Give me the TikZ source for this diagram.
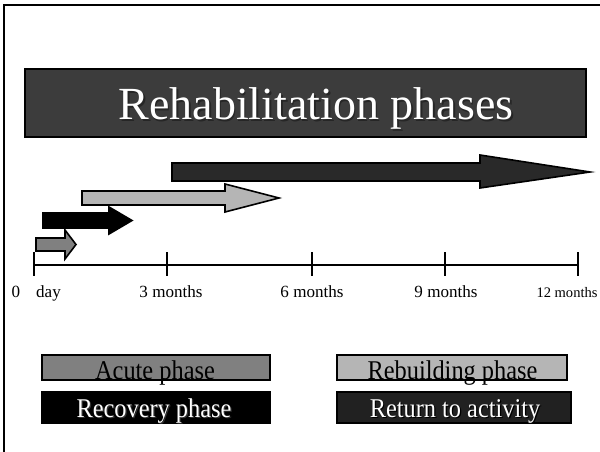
\documentclass[tikz,border=0pt]{standalone}
\usepackage{fontspec}
\setmainfont{Liberation Serif}
\newfontfamily\legendfont[FakeStretch=0.9]{Liberation Serif}
\definecolor{acutecol}{gray}{0.5}
\definecolor{rebuildcol}{gray}{0.71}
\definecolor{returncol}{gray}{0.16}
\definecolor{titlecol}{gray}{0.235}
\definecolor{legendret}{gray}{0.13}
\begin{document}
\begin{tikzpicture}[x=0.75pt,y=-0.75pt,
  phasearrow/.style={draw=black,line width=1.2pt,line join=miter},
  tickline/.style={line width=1.5pt},
  axislabel/.style={anchor=base,inner sep=0pt,font=\fontsize{12.8}{14}\selectfont},
  legendbox/.style={draw=black,line width=1.3pt},
  legendtext/.style={anchor=base,inner sep=0pt,font=\legendfont\fontsize{20.3}{22}\selectfont},
  shadowtext/.style={anchor=base,inner sep=0pt,text=black!85}]
\useasboundingbox (0,0) rectangle (600,452);
% frame
\draw[line width=1.5pt] (4,452) -- (4,5) -- (600,5);
% title
\draw[fill=titlecol,draw=black,line width=1.6pt] (25,69) rectangle (586,137);
\node[shadowtext,font=\fontsize{34.5}{38}\selectfont] (titleshadow) at (317.5,121.5) {Rehabilitation phases};
\node[anchor=base,inner sep=0pt,text=white,font=\fontsize{34.5}{38}\selectfont] (title) at (316,120) {Rehabilitation phases};
% arrows
\draw[phasearrow,fill=returncol] (172,163) -- (480,163) -- (480,155) -- (590,172) -- (480,188) -- (480,181) -- (172,181) -- cycle;
\draw[phasearrow,fill=rebuildcol] (82,191) -- (225,191) -- (225,184) -- (279,198) -- (225,212) -- (225,205) -- (82,205) -- cycle;
\draw[phasearrow,fill=black] (43,213) -- (109,213) -- (109,207) -- (132,220.5) -- (109,234) -- (109,228) -- (43,228) -- cycle;
\draw[phasearrow,fill=acutecol] (36,238) -- (65,238) -- (65,230) -- (76,244.5) -- (65,259) -- (65,251) -- (36,251) -- cycle;
% axis
\coordinate (t0) at (34,265);
\coordinate (t3) at (167,265);
\coordinate (t6) at (312,265);
\coordinate (t9) at (445,265);
\coordinate (t12) at (578,265);
\draw[line width=1.1pt] (t0) -- (t12);
\foreach \t in {t0,t3,t6,t9,t12}{
  \draw[tickline] ([yshift=-8]\t) -- ([yshift=10]\t);
}
\node[axislabel] (l0) at (16,298) {0};
\node[axislabel] (lday) at (48.5,298) {day};
\node[axislabel] (l3) at (171,298) {3 months};
\node[axislabel] (l6) at (312,298) {6 months};
\node[axislabel] (l9) at (446,298) {9 months};
\node[axislabel,font=\fontsize{10.9}{12}\selectfont] (l12) at (567,298) {12 months};
% legend
\draw[legendbox,fill=acutecol] (42,355) rectangle (270,380);
\node[legendtext] (acute) at (155,379) {Acute phase};
\draw[legendbox,fill=black] (42,392) rectangle (270,423);
\node[legendtext,text=black!80] (recshadow) at (155.2,418.2) {Recovery phase};
\node[legendtext,text=white] (recovery) at (154,417) {Recovery phase};
\draw[legendbox,fill=rebuildcol] (337,355) rectangle (567,380);
\node[legendtext] (rebuild) at (452.5,379) {Rebuilding phase};
\draw[legendbox,fill=legendret,draw=black] (337,392) rectangle (571,423);
\node[legendtext,text=black] (retshadow) at (456.2,418.2) {Return to activity};
\node[legendtext,text=white] (return) at (455,417) {Return to activity};
\end{tikzpicture}
\end{document}
